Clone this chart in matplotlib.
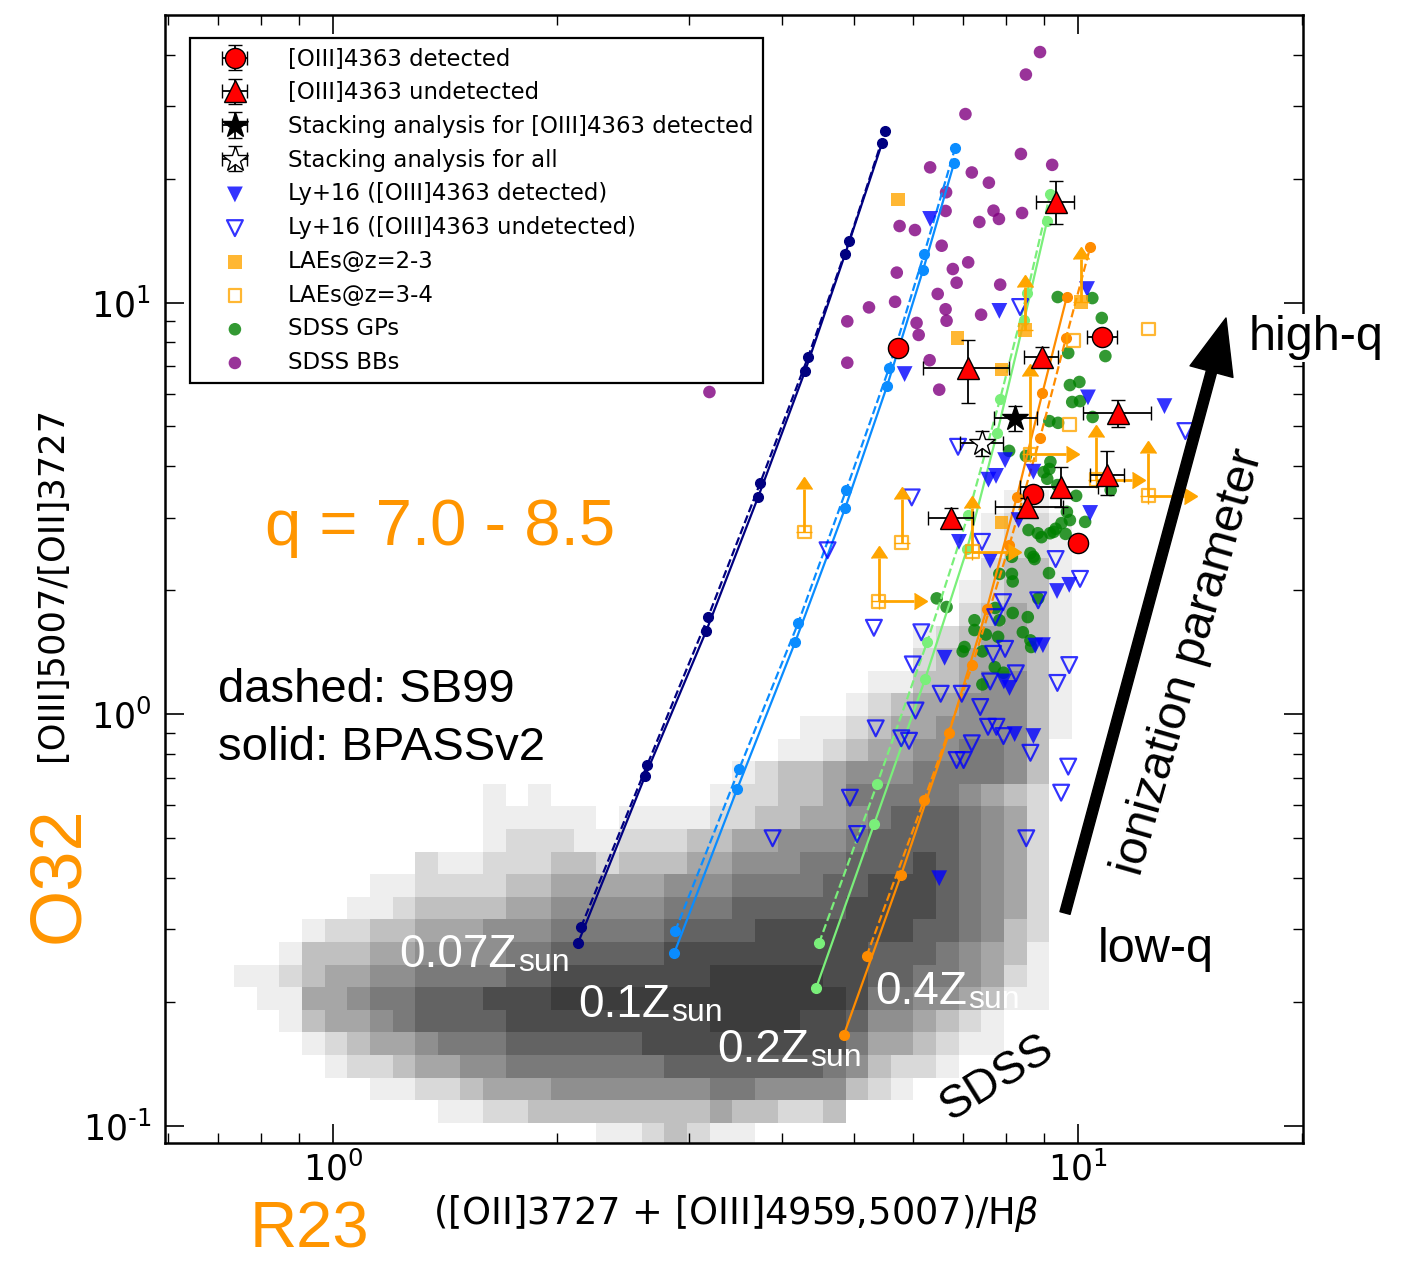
import numpy as np
import matplotlib
matplotlib.use("Agg")
import matplotlib.pyplot as plt
from matplotlib.patches import FancyArrowPatch, ArrowStyle
from matplotlib.text import Annotation
from matplotlib.legend_handler import HandlerErrorbar
from matplotlib.container import ErrorbarContainer
from matplotlib.ticker import FuncFormatter

# ------------------------------------------------------------------
# SDSS star-forming galaxies: binned density in (log R23, log O32)
# each character is a darkness level 0 (empty) .. 9 (densest); rows top -> bottom
sdss_logr23_edges = -0.1330 + 0.03040 * np.arange(38)
sdss_logo32_edges = -1.0481 + 0.05492 * np.arange(30)
sdss_density_rows = [
    ".........." ".........." ".........." "....11.",
    ".........." ".........." ".........." "...1221",
    ".........." ".........." ".........." "...1221",
    ".........." ".........." ".........." "...2331",
    ".........." ".........." ".........." "..12331",
    ".........." ".........." ".........." "..23431",
    ".........." ".........." ".........." "1234431",
    ".........." ".........." ".........." "2344431",
    ".........." ".........." "........11" "3345531",
    ".........." ".........." ".......123" "4455531",
    ".........." ".........." ".....11234" "4555531",
    ".........." ".........." "....112344" "556653.",
    ".........." ".........." "..12334555" "666653.",
    ".........." ".1.1......" ".122334666" "665432.",
    ".........." ".11111.111" "1223344567" "776542.",
    ".........." ".122211222" "3344555677" "776542.",
    "........21" "1222332333" "4455566777" "876542.",
    "......1122" "2233444445" "5566667788" "876542.",
    ".....11233" "3344555556" "6677777888" "876542.",
    "...1223344" "4555666667" "7778888888" "776532.",
    "..13334455" "5566777778" "8888888877" "765431.",
    "1123445566" "6677888888" "8999998877" "665421.",
    ".114456677" "7888999999" "9999999866" "554311.",
    "..13445677" "7788888888" "8999988755" "4321...",
    "...1234456" "6677777788" "8888888644" "3211...",
    "....122344" "5566666667" "7777776532" "21.....",
    "......1122" "3444555555" "5665555321" ".......",
    ".........1" "1223333333" "3433223..." ".......",
    ".........." "......1123" "211......." ".......",
]

# Photoionisation model grids, q = 7.0 ... 8.5 (solid: BPASSv2, dashed: SB99)
z007_bpass_r23 = [2.132, 2.623, 3.168, 3.720, 4.301, 4.868, 5.457]
z007_bpass_o32 = [0.2777, 0.7067, 1.591, 3.368, 6.817, 13.12, 24.41]
z007_sb99_r23 = [2.152, 2.640, 3.187, 3.743, 4.341, 4.928, 5.507]
z007_sb99_o32 = [0.3037, 0.7517, 1.721, 3.641, 7.372, 14.11, 26.12]

z01_bpass_r23 = [2.870, 3.486, 4.171, 4.868, 5.541, 6.193, 6.817]
z01_bpass_o32 = [0.2625, 0.6572, 1.496, 3.167, 6.268, 11.99, 21.83]
z01_sb99_r23 = [2.879, 3.508, 4.210, 4.883, 5.576, 6.213, 6.838]
z01_sb99_o32 = [0.2970, 0.7351, 1.664, 3.502, 6.931, 13.12, 23.74]

z02_bpass_r23 = [4.450, 5.324, 6.232, 7.096, 7.786, 8.465, 9.086]
z02_bpass_o32 = [0.2159, 0.5404, 1.216, 2.518, 4.818, 9.069, 15.78]
z02_sb99_r23 = [4.491, 5.373, 6.271, 7.118, 7.858, 8.543, 9.172]
z02_sb99_o32 = [0.2777, 0.6757, 1.496, 3.045, 5.829, 10.55, 18.35]

z04_bpass_r23 = [4.847, 5.786, 6.712, 7.541, 8.275, 8.956, 9.656]
z04_bpass_o32 = [0.1659, 0.4062, 0.8990, 1.800, 3.368, 6.026, 10.31]
z04_sb99_r23 = [5.201, 6.213, 7.214, 8.088, 8.892, 9.636, 10.38]
z04_sb99_o32 = [0.2582, 0.6180, 1.315, 2.575, 4.692, 8.214, 13.62]

# SDSS blueberries
bb_r23 = [8.89, 8.51, 7.06, 8.38, 9.23, 6.33, 7.20, 7.59, 6.65, 6.64, 7.70, 7.83,
          8.41, 5.76, 6.04, 7.37, 6.56, 7.12, 5.71, 6.79, 6.87, 7.86, 6.48, 5.24,
          5.68, 4.90, 6.64, 6.66, 6.07, 7.41, 6.11, 4.90, 6.32, 6.51, 3.20]
bb_o32 = [40.6, 35.8, 28.7, 22.96, 21.6, 21.3, 20.7, 19.55, 18.53, 16.69, 16.72,
          15.96, 16.50, 15.34, 15.0, 15.69, 13.74, 12.52, 11.82, 12.06, 11.17,
          11.05, 10.49, 9.73, 10.04, 9.00, 9.63, 9.03, 8.92, 9.34, 8.34, 7.14,
          7.24, 6.14, 6.06]

# SDSS green peas
gp_r23 = [9.39, 10.45, 10.76, 9.70, 10.88, 9.75, 10.04, 9.82, 10.06, 9.15,
          9.40, 10.46, 8.08, 8.51, 9.18, 9.15, 8.99, 9.09, 9.38, 11.06,
          9.94, 9.66, 9.50, 9.75, 10.22, 8.58, 8.83, 9.17, 9.33, 8.93,
          9.62, 8.63, 8.74, 8.15, 9.14, 7.84, 8.15, 8.17, 8.84, 6.46,
          6.66, 7.74, 8.17, 8.56, 7.26, 7.84, 7.26, 8.43, 8.63, 7.81,
          7.04, 7.00, 7.44, 8.65, 7.73, 7.94, 7.44, 7.52, 9.27, 8.71]
gp_o32 = [10.31, 10.25, 9.17, 7.54, 7.41, 6.30, 6.41, 5.73, 5.76, 5.15,
          5.10, 5.27, 4.36, 4.24, 4.10, 3.94, 3.87, 3.73, 3.60, 3.50,
          3.39, 3.10, 2.91, 2.96, 2.93, 2.80, 2.75, 2.75, 2.82, 2.69,
          2.74, 2.46, 2.38, 2.41, 2.20, 2.19, 2.19, 2.10, 1.91, 1.91,
          1.82, 1.81, 1.76, 1.72, 1.69, 1.69, 1.60, 1.58, 1.51, 1.54,
          1.455, 1.42, 1.42, 1.455, 1.30, 1.26, 1.18, 1.56, 2.77, 2.41]

# Ly+16 sample
ly_det_r23 = [6.33, 5.85, 7.84, 10.28, 10.31, 13.06, 7.98, 7.76, 7.58, 8.71, 10.38, 8.32,
              6.92, 7.62, 9.37, 9.73, 6.62, 7.95, 8.09, 8.97, 8.76, 8.22, 8.71, 6.51]
ly_det_o32 = [15.96, 6.70, 9.54, 10.78, 5.88, 5.60, 4.14, 3.79, 3.71, 3.88, 3.08, 2.96,
              2.62, 2.36, 1.99, 2.06, 1.37, 1.20, 1.157, 1.47, 1.466, 0.894, 0.884, 0.399]
ly_und_r23 = [8.36, 13.93, 6.90, 5.98, 4.61, 7.43, 9.33, 10.06, 7.93, 8.84,
              7.74, 5.32, 6.16, 7.69, 7.98, 6.00, 9.73, 9.38, 7.62, 8.25,
              6.54, 6.98, 7.39, 6.05, 5.35, 5.79, 5.93, 7.20, 7.57, 7.77,
              7.94, 8.63, 9.70, 6.87, 7.02, 9.49, 4.94, 3.89, 5.05, 8.52]
ly_und_o32 = [9.75, 4.87, 4.46, 3.36, 2.50, 2.62, 2.38, 2.13, 1.87, 1.89,
              1.72, 1.62, 1.58, 1.40, 1.44, 1.32, 1.315, 1.19, 1.20, 1.256,
              1.12, 1.12, 1.04, 1.02, 0.923, 0.873, 0.861, 0.849, 0.931, 0.931,
              0.884, 0.805, 0.745, 0.773, 0.773, 0.644, 0.626, 0.499, 0.511, 0.499]

# LAEs (lower limits flagged)
lae23_r23 = [5.73, 6.89, 7.89, 8.49, 10.09, 7.89]
lae23_o32 = [17.81, 8.21, 6.88, 8.57, 10.04, 2.92]
lae23_o32_lowlim = [False, False, False, True, True, False]
lae34_r23 = [12.44, 9.86, 9.73, 4.29, 5.80, 5.40, 12.42, 8.62, 10.58, 7.21]
lae34_o32 = [8.62, 8.08, 5.06, 2.77, 2.61, 1.88, 3.39, 4.28, 3.71, 2.48]
lae34_o32_lowlim = [False, False, False, True, True, True, True, True, True, True]
lae34_r23_lowlim = [False, False, False, False, False, True, True, True, True, True]

# This work: [OIII]4363 detected
det_r23 = [5.74, 10.78, 8.71, 10.0]
det_r23_lo = [5.74, 10.28, 8.71, 10.0]
det_r23_hi = [5.74, 11.29, 8.71, 10.0]
det_o32 = [7.74, 8.26, 3.42, 2.60]
# This work: [OIII]4363 undetected
und_r23 = [9.35, 7.12, 8.94, 11.31, 10.94, 9.49, 8.53, 6.75]
und_r23_lo = [8.78, 6.19, 8.47, 10.16, 10.36, 8.36, 7.74, 6.28]
und_r23_hi = [9.86, 8.08, 9.41, 12.53, 11.53, 10.65, 9.55, 7.22]
und_o32 = [17.58, 6.92, 7.38, 5.38, 3.81, 3.57, 3.19, 2.99]
und_o32_lo = [15.51, 5.71, 6.98, 4.99, 3.41, 3.19, 3.05, 2.91]
und_o32_hi = [19.77, 8.10, 7.81, 5.80, 4.36, 3.99, 3.35, 3.16]
# Stacks
stack_det = dict(r23=8.23, r23_lo=7.70, r23_hi=8.82, o32=5.23, o32_lo=4.87, o32_hi=5.61)
stack_all = dict(r23=7.43, r23_lo=6.94, r23_hi=7.94, o32=4.55, o32_lo=4.24, o32_hi=4.87)

# ------------------------------------------------------------------
W, H = 1411, 1262
fig = plt.figure(figsize=(W / 100, H / 100), dpi=100)
ax = fig.add_axes([165 / W, 1 - 1143 / H, (1303 - 165) / W, (1143 - 15) / H])
ax.set_xscale("log")
ax.set_yscale("log")
ax.set_xlim(0.5948, 20.04)
ax.set_ylim(0.0907, 49.96)


def fp(px, py):
    return px / W, 1 - py / H


ORANGE_TXT = "#ff9500"
SANS = "Liberation Sans"

# SDSS density
grey_of_level = np.array([1.0, 0.93, 0.85, 0.75, 0.65, 0.56, 0.48, 0.39, 0.30, 0.235])
levels = np.array([[0 if ch == "." else int(ch) for ch in row]
                   for row in sdss_density_rows[::-1]])
greys = np.ma.masked_where(levels == 0, grey_of_level[levels])
ax.pcolormesh(10 ** sdss_logr23_edges, 10 ** sdss_logo32_edges, greys,
              cmap="gray", vmin=0, vmax=1, shading="flat", zorder=0)

# scatter samples
h_bb = ax.scatter(bb_r23, bb_o32, s=82, c="purple", alpha=0.8, edgecolors="none",
                  zorder=2, label="SDSS BBs")
h_gp = ax.scatter(gp_r23, gp_o32, s=82, c="green", alpha=0.8, edgecolors="none",
                  zorder=2, label="SDSS GPs")

# model tracks
models = [
    (z007_bpass_r23, z007_bpass_o32, z007_sb99_r23, z007_sb99_o32, "#000080"),
    (z01_bpass_r23, z01_bpass_o32, z01_sb99_r23, z01_sb99_o32, "#0a8cff"),
    (z02_bpass_r23, z02_bpass_o32, z02_sb99_r23, z02_sb99_o32, "#7aef7a"),
    (z04_bpass_r23, z04_bpass_o32, z04_sb99_r23, z04_sb99_o32, "#ff8c00"),
]
for rs, os_, rd, od, col in models:
    ax.plot(rs, os_, "-", color=col, lw=1.6, marker="o", ms=7, zorder=3)
    ax.plot(rd, od, "--", color=col, lw=1.6, marker="o", ms=7, zorder=3)

h_lydet = ax.scatter(ly_det_r23, ly_det_o32, s=130, marker="v", c="blue", alpha=0.8,
                     edgecolors="none", zorder=4, label="Ly+16 ([OIII]4363 detected)")
h_lyund = ax.scatter(ly_und_r23, ly_und_o32, s=130, marker="v", facecolors="none",
                     edgecolors="blue", linewidths=1.6, alpha=0.8, zorder=4,
                     label="Ly+16 ([OIII]4363 undetected)")

# LAEs with lower-limit arrows (arrow lengths in dex)
UP_DEX, RIGHT_DEX = 0.105, 0.048
up_len_override = {7: 0.19}
arrow_kw = dict(fmt="none", ecolor="orange", elinewidth=2.0, capsize=6, zorder=5)


def limit_arrow(**kw):
    cont = ax.errorbar(**kw, **arrow_kw)
    for cl in cont.lines[1]:
        cl.set_markerfacecolor("orange")
        cl.set_markeredgecolor("orange")


for x, y, lim in zip(lae23_r23, lae23_o32, lae23_o32_lowlim):
    if lim:
        limit_arrow(x=x, y=y, yerr=[[0], [y * (10 ** UP_DEX - 1)]], lolims=True)
for i, (x, y, ly, lx) in enumerate(zip(lae34_r23, lae34_o32, lae34_o32_lowlim,
                                       lae34_r23_lowlim)):
    if ly:
        d = up_len_override.get(i, UP_DEX)
        limit_arrow(x=x, y=y, yerr=[[0], [y * (10 ** d - 1)]], lolims=True)
    if lx:
        limit_arrow(x=x, y=y, xerr=[[0], [x * (10 ** RIGHT_DEX - 1)]], xlolims=True)

h_lae23 = ax.scatter(lae23_r23, lae23_o32, s=95, marker="s", c="orange", alpha=0.8,
                     edgecolors="none", zorder=5, label="LAEs@z=2-3")
h_lae34 = ax.scatter(lae34_r23, lae34_o32, s=85, marker="s", facecolors="none",
                     edgecolors="orange", linewidths=1.6, alpha=0.8, zorder=5,
                     label="LAEs@z=3-4")


def asym(v, lo, hi):
    v, lo, hi = map(np.asarray, (v, lo, hi))
    return np.vstack([v - lo, hi - v])


eb_kw = dict(ecolor="black", elinewidth=1.3, capsize=5, capthick=1.3, mec="black", mew=1.0)
h_det = ax.errorbar(det_r23, det_o32, xerr=asym(det_r23, det_r23_lo, det_r23_hi),
                    yerr=np.zeros((2, len(det_o32))), fmt="o", ms=14.5, mfc="red",
                    zorder=6, label="[OIII]4363 detected", **eb_kw)
h_und = ax.errorbar(und_r23, und_o32, xerr=asym(und_r23, und_r23_lo, und_r23_hi),
                    yerr=asym(und_o32, und_o32_lo, und_o32_hi), fmt="^", ms=16, mfc="red",
                    zorder=6, label="[OIII]4363 undetected", **eb_kw)
h_sd = ax.errorbar([stack_det["r23"]], [stack_det["o32"]],
                   xerr=asym([stack_det["r23"]], [stack_det["r23_lo"]], [stack_det["r23_hi"]]),
                   yerr=asym([stack_det["o32"]], [stack_det["o32_lo"]], [stack_det["o32_hi"]]),
                   fmt="*", ms=19, mfc="black", zorder=7,
                   label="Stacking analysis for [OIII]4363 detected", **eb_kw)
h_sa = ax.errorbar([stack_all["r23"]], [stack_all["o32"]],
                   xerr=asym([stack_all["r23"]], [stack_all["r23_lo"]], [stack_all["r23_hi"]]),
                   yerr=asym([stack_all["o32"]], [stack_all["o32_lo"]], [stack_all["o32_hi"]]),
                   fmt="*", ms=19, mfc="white", zorder=7,
                   label="Stacking analysis for all", **eb_kw)


# axes styling
def pow10_label(v, pos):
    e = int(round(np.log10(v)))
    return r"$\mathdefault{10^{%s}}$" % str(e).replace("-", "\u2010")


ax.xaxis.set_major_formatter(FuncFormatter(pow10_label))
ax.yaxis.set_major_formatter(FuncFormatter(pow10_label))
for sp in ax.spines.values():
    sp.set_linewidth(1.8)
ax.tick_params(which="both", direction="in", top=True, right=True)
ax.tick_params(which="major", length=14, width=1.2, labelsize=25)
ax.tick_params(which="minor", length=7, width=1.0)
ax.tick_params(axis="x", which="major", pad=6)
ax.tick_params(axis="y", which="major", pad=10)

leg = ax.legend(handles=[h_det, h_und, h_sd, h_sa, h_lydet, h_lyund, h_lae23, h_lae34,
                         h_gp, h_bb],
                handler_map={ErrorbarContainer: HandlerErrorbar(xerr_size=0.55,
                                                                yerr_size=0.55)},
                loc="upper left", bbox_to_anchor=(0.022, 0.9796), borderaxespad=0,
                fontsize=16.4, frameon=True, fancybox=False, framealpha=1,
                edgecolor="black", borderpad=0.42, handlelength=3.1, handletextpad=0.78,
                labelspacing=0.47, scatterpoints=1)
leg.get_frame().set_linewidth(1.6)
leg.set_zorder(10)

# annotations
fig.text(*fp(440, 528), "q = 7.0 - 8.5", ha="center", va="center", fontsize=47,
         color=ORANGE_TXT, family=SANS)
fig.text(*fp(218, 690), "dashed: SB99", ha="left", va="center", fontsize=34, family=SANS)
fig.text(*fp(218, 748), "solid: BPASSv2", ha="left", va="center", fontsize=34, family=SANS)

for label, px, py in [("0.07Z", 399, 967), ("0.1Z", 578, 1017),
                      ("0.2Z", 717, 1062), ("0.4Z", 875, 1004)]:
    t = fig.text(*fp(px, py), label, ha="left", va="baseline", fontsize=33,
                 color="white", family=SANS)
    fig.add_artist(Annotation("sun", xy=(1, 0), xycoords=t, xytext=(1, 4),
                              textcoords="offset points", ha="left", va="baseline",
                              fontsize=23, color="white", family=SANS))

fig.text(*fp(997, 1078), "SDSS", ha="center", va="center", rotation=32, fontsize=33,
         family=SANS)
fig.text(*fp(1156, 950), "low-q", ha="center", va="center", fontsize=35, family=SANS)
fig.text(*fp(1316, 338), "high-q", ha="center", va="center", fontsize=35, family=SANS,
         bbox=dict(facecolor="white", edgecolor="none", pad=1), zorder=5)
fig.text(*fp(1189, 662), "ionization parameter", ha="center", va="center", rotation=74,
         fontsize=35, family=SANS)

arrow = FancyArrowPatch(fp(1065, 913), fp(1226, 318), transform=fig.transFigure,
                        arrowstyle=ArrowStyle.Simple(head_length=40, head_width=32,
                                                     tail_width=7.5),
                        mutation_scale=1, color="black", shrinkA=0, shrinkB=0, zorder=6)
fig.add_artist(arrow)

fig.text(*fp(736, 1213), r"([OII]3727 + [OIII]4959,5007)/H$\beta$", ha="center",
         va="center", fontsize=26.5)
fig.text(*fp(52, 584), "[OIII]5007/[OII]3727", ha="center", va="center", rotation=90,
         fontsize=25.4)
fig.text(*fp(60, 875), "O32", ha="center", va="center", rotation=90, fontsize=52,
         color=ORANGE_TXT, family=SANS)
fig.text(*fp(250, 1247), "R23", ha="left", va="baseline", fontsize=47, color=ORANGE_TXT,
         family=SANS)

fig.savefig("out.png", dpi=100, facecolor="white")
